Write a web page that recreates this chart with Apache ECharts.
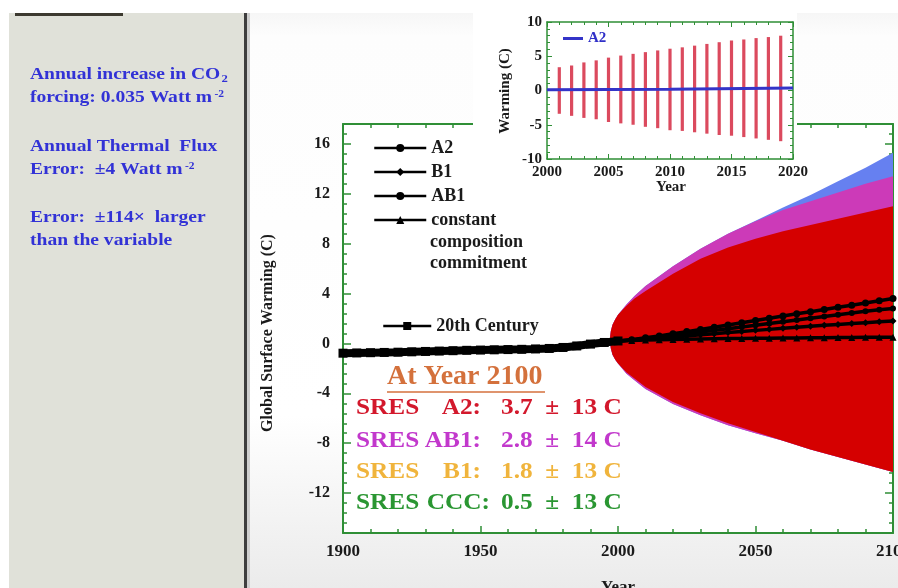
<!DOCTYPE html>
<html><head><meta charset="utf-8">
<script src="https://cdn.jsdelivr.net/npm/echarts@6/dist/echarts.min.js"></script>
<style>html,body{margin:0;padding:0;background:#fff;} #c{width:898px;height:588px;}</style>
</head><body><div id="c"></div>
<script>
// ---------- data ----------
const histYears = [1900,1905,1910,1915,1920,1925,1930,1935,1940,1945,1950,1955,1960,1965,1970,1975,1980,1985,1990,1995,2000];
const histTemp  = [-0.78,-0.76,-0.74,-0.72,-0.70,-0.67,-0.64,-0.61,-0.58,-0.55,-0.53,-0.51,-0.49,-0.47,-0.44,-0.40,-0.32,-0.20,-0.05,0.08,0.20];

const projYears = [2000,2005,2010,2015,2020,2025,2030,2035,2040,2045,2050,2055,2060,2065,2070,2075,2080,2085,2090,2095,2100];
const projA2  = [0.2,0.3,0.45,0.6,0.78,0.95,1.12,1.3,1.48,1.66,1.84,2.02,2.2,2.38,2.55,2.72,2.9,3.07,3.24,3.42,3.6];
const projAB1 = [0.2,0.28,0.4,0.52,0.65,0.78,0.92,1.05,1.18,1.32,1.46,1.6,1.74,1.88,2.02,2.16,2.3,2.44,2.58,2.7,2.8];
const projB1  = [0.2,0.27,0.35,0.43,0.52,0.6,0.69,0.78,0.87,0.96,1.05,1.13,1.22,1.3,1.38,1.46,1.53,1.6,1.67,1.74,1.8];
const projCCC = [0.2,0.24,0.27,0.3,0.32,0.34,0.36,0.38,0.39,0.4,0.41,0.42,0.43,0.44,0.45,0.46,0.47,0.48,0.49,0.5,0.5];

const bandYears    = [1997,1997.4,1998,1999,2000,2003,2006,2010,2020,2030,2040,2050,2060,2070,2080,2090,2100];
const redUpper     = [0.3,1.0,1.5,1.95,2.3,3.0,3.6,4.2,5.6,6.8,7.7,8.4,9.0,9.5,10.0,10.5,11.0];
const redLower     = [0.3,-0.4,-0.9,-1.3,-1.6,-2.3,-2.8,-3.5,-4.7,-5.6,-6.4,-7.1,-7.8,-8.5,-9.1,-9.7,-10.3];
const magentaUpper = [0.3,1.0,1.5,1.95,2.3,3.1,3.8,4.6,6.2,7.6,8.8,9.8,10.7,11.4,12.1,12.8,13.4];
const magentaLower = [0.3,-0.4,-0.9,-1.3,-1.6,-2.4,-2.95,-3.65,-4.85,-5.75,-6.55,-7.2,-7.8,-8.5,-9.1,-9.7,-10.3];
const blueUpper    = [0.3,1.0,1.5,1.95,2.3,3.1,3.8,4.6,6.2,7.6,8.8,9.85,10.9,11.9,13.0,14.1,15.3];
const blueLower    = [0.3,-0.4,-0.9,-1.3,-1.6,-2.4,-2.95,-3.65,-4.85,-5.75,-6.55,-7.2,-7.8,-8.5,-9.1,-9.7,-10.3];

const insetYears = [2001,2002,2003,2004,2005,2006,2007,2008,2009,2010,2011,2012,2013,2014,2015,2016,2017,2018,2019];
const insetHigh  = [3.4,3.65,4.1,4.4,4.8,5.1,5.35,5.6,5.85,6.1,6.3,6.55,6.8,7.05,7.3,7.45,7.65,7.8,8.0];
const insetLow   = [-3.4,-3.7,-4.0,-4.2,-4.6,-4.8,-5.0,-5.3,-5.5,-5.8,-5.9,-6.1,-6.3,-6.5,-6.6,-6.8,-7.0,-7.2,-7.4];
const insetLineYears = [2000,2010,2020];
const insetLine      = [0.1,0.2,0.35];

const yMajorMain = [-12,-8,-4,0,4,8,12,16];
const sresLabels = ['A2:','AB1:','B1:','CCC:'];
const sresValues = ['3.7  \u00b1  13 C','2.8  \u00b1  14 C','1.8  \u00b1  13 C','0.5  \u00b1  13 C'];

// ---------- styles ----------
const SERIF = "'Liberation Serif','DejaVu Serif',serif";
const GREEN = '#2f8f36';
const BLUE_TXT = '#3232d6';
const pairs = (xs, ys) => xs.map((x, i) => [x, ys[i]]);
const plain = v => String(v);

function band(name, lower, upper, color) {
  return {type:'custom', name:name, xAxisIndex:0, yAxisIndex:0, z:2, silent:true, clip:true,
    data:bandYears.map((y, i) => [y, lower[i], upper[i]]),
    encode:{x:0, y:[1,2]},
    renderItem:function(params, api){
      if (params.dataIndex !== 0) return null;
      const pts = [];
      for (let i = 0; i < bandYears.length; i++) pts.push(api.coord([bandYears[i], upper[i]]));
      for (let i = bandYears.length - 1; i >= 0; i--) pts.push(api.coord([bandYears[i], lower[i]]));
      return {type:'polygon', shape:{points:pts}, style:{fill:color}};
    }};
}
function proj(name, vals, sym, size) {
  return {type:'line', name:name, data:pairs(projYears, vals), symbol:sym, symbolSize:size,
    showAllSymbol:true, itemStyle:{color:'#000'}, lineStyle:{color:'#000', width:3.5}, z:3, xAxisIndex:0, yAxisIndex:0};
}

const lblStyle = {fontFamily:SERIF, fontWeight:'bold', fontSize:16, color:'#1a1a1a'};
const xLblStyle = {fontFamily:SERIF, fontWeight:'bold', fontSize:17, color:'#1a1a1a'};
const tickStyle = {color:GREEN, width:1.5};
const insetLbl = {fontFamily:SERIF, fontWeight:'bold', fontSize:15, color:'#1a1a1a'};

function leftText(y, text, rich) {
  const st = {text:text, verticalAlign:'middle', fontFamily:SERIF, fontWeight:'bold', fontSize:17, fill:BLUE_TXT};
  if (rich) st.rich = rich;
  return {type:'text', z:10, x:30, y:y, scaleX:1.15, style:st};
}
const richSub = {a:{fontFamily:SERIF, fontWeight:'bold', fontSize:17, fill:BLUE_TXT}, s:{fontFamily:SERIF, fontWeight:'bold', fontSize:11, fill:BLUE_TXT, padding:[8,0,0,1]}};
const richSup = {a:{fontFamily:SERIF, fontWeight:'bold', fontSize:17, fill:BLUE_TXT}, s:{fontFamily:SERIF, fontWeight:'bold', fontSize:10, fill:BLUE_TXT, padding:[0,0,8,2]}};

const option = {
  backgroundColor:'#ffffff',
  animation:false,
  grid:[
    {left:343, top:124, width:550, height:409, show:true, backgroundColor:'#ffffff', borderWidth:0, z:0,
     containLabel:false, outerBoundsMode:'none'},
    {left:547, top:22, width:246, height:137, show:true, backgroundColor:'#ffffff', borderWidth:0, z:4,
     containLabel:false, outerBoundsMode:'none'}
  ],
  xAxis:[
    {type:'value', gridIndex:0, position:'bottom', min:1900, max:2100, interval:50, z:1,
     axisLine:{show:true, onZero:false, lineStyle:{color:GREEN, width:2}},
     axisTick:{show:true, inside:true, length:7, lineStyle:tickStyle},
     minorTick:{show:true, splitNumber:5, length:4, lineStyle:tickStyle},
     splitLine:{show:false}, axisLabel:Object.assign({margin:10, formatter:plain}, xLblStyle)},
    {type:'value', gridIndex:0, position:'top', min:1900, max:2100, interval:50, z:1,
     axisLine:{show:true, onZero:false, lineStyle:{color:GREEN, width:2}},
     axisTick:{show:true, inside:true, length:7, lineStyle:tickStyle},
     minorTick:{show:true, splitNumber:5, length:4, lineStyle:tickStyle},
     splitLine:{show:false}, axisLabel:{show:false}},
    {type:'value', gridIndex:1, position:'bottom', min:2000, max:2020, interval:5, z:5,
     axisLine:{show:true, onZero:false, lineStyle:{color:GREEN, width:1.5}},
     axisTick:{show:true, inside:true, length:5, lineStyle:{color:GREEN, width:1}},
     minorTick:{show:true, splitNumber:5, length:3, lineStyle:{color:GREEN, width:1}},
     splitLine:{show:false}, axisLabel:Object.assign({margin:6, formatter:plain}, insetLbl)},
    {type:'value', gridIndex:1, position:'top', min:2000, max:2020, interval:5, z:5,
     axisLine:{show:true, onZero:false, lineStyle:{color:GREEN, width:1.5}},
     axisTick:{show:true, inside:true, length:5, lineStyle:{color:GREEN, width:1}},
     minorTick:{show:true, splitNumber:5, length:3, lineStyle:{color:GREEN, width:1}},
     splitLine:{show:false}, axisLabel:{show:false}}
  ],
  yAxis:[
    {type:'value', gridIndex:0, position:'left', min:-15.2, max:17.6, interval:0.8, z:1,
     axisLine:{show:true, onZero:false, lineStyle:{color:GREEN, width:2}},
     axisTick:{show:true, inside:true, length:4, lineStyle:tickStyle},
     splitLine:{show:false},
     axisLabel:Object.assign({margin:13, formatter:function(v){
        const r = Math.round(v/4)*4; return Math.abs(v - r) < 1e-6 ? String(r) : '';}}, lblStyle)},
    {type:'value', gridIndex:0, position:'left', min:-15.2, max:17.6, z:1,
     axisLine:{show:false}, splitLine:{show:false}, axisLabel:{show:false},
     axisTick:{show:true, inside:true, length:8, customValues:yMajorMain, lineStyle:tickStyle}},
    {type:'value', gridIndex:0, position:'right', min:-15.2, max:17.6, interval:0.8, z:1,
     axisLine:{show:true, onZero:false, lineStyle:{color:GREEN, width:2}},
     axisTick:{show:true, inside:true, length:4, lineStyle:tickStyle},
     splitLine:{show:false}, axisLabel:{show:false}},
    {type:'value', gridIndex:0, position:'right', min:-15.2, max:17.6, z:1,
     axisLine:{show:false}, splitLine:{show:false}, axisLabel:{show:false},
     axisTick:{show:true, inside:true, length:8, customValues:yMajorMain, lineStyle:tickStyle}},
    {type:'value', gridIndex:1, position:'left', min:-10, max:10, interval:5, z:5,
     axisLine:{show:true, onZero:false, lineStyle:{color:GREEN, width:1.5}},
     axisTick:{show:true, inside:true, length:5, lineStyle:{color:GREEN, width:1}},
     minorTick:{show:true, splitNumber:5, length:3, lineStyle:{color:GREEN, width:1}},
     splitLine:{show:false}, axisLabel:Object.assign({margin:5, formatter:plain}, insetLbl)},
    {type:'value', gridIndex:1, position:'right', min:-10, max:10, interval:5, z:5,
     axisLine:{show:true, onZero:false, lineStyle:{color:GREEN, width:1.5}},
     axisTick:{show:true, inside:true, length:5, lineStyle:{color:GREEN, width:1}},
     minorTick:{show:true, splitNumber:5, length:3, lineStyle:{color:GREEN, width:1}},
     splitLine:{show:false}, axisLabel:{show:false}}
  ],
  legend:[
    {data:['A2','B1','AB1','CCC'], orient:'vertical', left:373, top:138, padding:0, itemGap:4,
     itemWidth:52, itemHeight:10, selectedMode:false, z:10,
     lineStyle:{width:2.5}, formatter:function(n){return n === 'CCC' ? 'constant' : n;},
     textStyle:{fontFamily:SERIF, fontWeight:'bold', fontSize:18, color:'#1a1a1a', lineHeight:20}},
    {data:['20th Century'], orient:'vertical', left:382, top:316, padding:0,
     itemWidth:48, itemHeight:10, selectedMode:false, z:10, lineStyle:{width:2.5},
     textStyle:{fontFamily:SERIF, fontWeight:'bold', fontSize:18, color:'#1a1a1a', lineHeight:20}},
    {data:['A2_inset'], orient:'vertical', left:563, top:30, padding:0, icon:'rect',
     itemWidth:20, itemHeight:3, selectedMode:false, z:10,
     formatter:function(){return 'A2';},
     textStyle:{fontFamily:SERIF, fontWeight:'bold', fontSize:15, color:'#3030c8', lineHeight:17}}
  ],
  series:[
    band('blueBand', blueLower, blueUpper, '#6680f0'),
    band('magentaBand', magentaLower, magentaUpper, '#cc3ab8'),
    band('redBand', redLower, redUpper, '#d50000'),
    {type:'line', name:'20th Century', data:pairs(histYears, histTemp), symbol:'rect', symbolSize:9,
     showAllSymbol:true, itemStyle:{color:'#000'}, lineStyle:{color:'#000', width:8}, z:3, xAxisIndex:0, yAxisIndex:0},
    proj('CCC', projCCC, 'triangle', 7),
    proj('B1', projB1, 'diamond', 7),
    proj('AB1', projAB1, 'circle', 6),
    proj('A2', projA2, 'circle', 7),
    {type:'custom', name:'A2 errors', xAxisIndex:2, yAxisIndex:4, z:6,
     data:insetYears.map((y, i) => [y, insetLow[i], insetHigh[i]]),
     encode:{x:0, y:[1,2]},
     renderItem:function(params, api){
       const x = api.value(0);
       const top = api.coord([x, api.value(2)]);
       const bot = api.coord([x, api.value(1)]);
       return {type:'rect', shape:{x:top[0]-1.6, y:top[1], width:3.2, height:bot[1]-top[1]},
               style:{fill:'#db4a5e'}};
     }},
    {type:'line', name:'A2_inset', xAxisIndex:2, yAxisIndex:4, z:7, data:pairs(insetLineYears, insetLine),
     symbol:'none', itemStyle:{color:'#3434c8'}, lineStyle:{color:'#3434c8', width:3}}
  ],
  graphic:{elements:[
    // slide background pieces
    {type:'rect', z:-20, shape:{x:250, y:13, width:648, height:575},
     style:{fill:new echarts.graphic.LinearGradient(0,0,0,1,[{offset:0,color:'#f6f6f6'},{offset:0.04,color:'#fdfdfd'},{offset:0.7,color:'#ffffff'},{offset:1,color:'#ebebeb'}])}},
    {type:'rect', z:-20, shape:{x:9, y:13, width:236, height:575}, style:{fill:'#e0e1d9'}},
    {type:'rect', z:-19, shape:{x:244, y:13, width:3, height:575}, style:{fill:'#3e3e3e'}},
    {type:'rect', z:-19, shape:{x:247, y:13, width:3, height:575}, style:{fill:'#cfcfcf'}},
    {type:'rect', z:-19, shape:{x:15, y:13, width:108, height:3}, style:{fill:'#3d3a30'}},
    // white cover behind inset
    {type:'rect', z:3, shape:{x:473, y:0, width:324, height:198}, style:{fill:'#ffffff'}},
    // left panel text
    leftText(75, '{a|Annual increase in CO}{s|2}', richSub),
    leftText(98, '{a|forcing: 0.035 Watt m}{s|-2}', richSup),
    leftText(147, 'Annual Thermal  Flux'),
    leftText(170, '{a|Error:  \u00b14 Watt m}{s|-2}', richSup),
    leftText(218, 'Error:  \u00b1114\u00d7  larger'),
    leftText(241, 'than the variable'),
    // legend continuation
    {type:'text', z:10, x:430, y:242, style:{text:'composition', verticalAlign:'middle', fontFamily:SERIF, fontWeight:'bold', fontSize:18, fill:'#1a1a1a'}},
    {type:'text', z:10, x:430, y:263, style:{text:'commitment', verticalAlign:'middle', fontFamily:SERIF, fontWeight:'bold', fontSize:18, fill:'#1a1a1a'}},
    // axis names
    {type:'text', z:10, x:268, y:333, rotation:Math.PI/2, style:{text:'Global Surface Warming (C)', align:'center', verticalAlign:'middle', fontFamily:SERIF, fontWeight:'bold', fontSize:16, fill:'#1a1a1a'}},
    {type:'text', z:10, x:618, y:588, style:{text:'Year', align:'center', verticalAlign:'middle', fontFamily:SERIF, fontWeight:'bold', fontSize:17, fill:'#1a1a1a'}},
    {type:'text', z:10, x:505, y:91, rotation:Math.PI/2, style:{text:'Warming (C)', align:'center', verticalAlign:'middle', fontFamily:SERIF, fontWeight:'bold', fontSize:15, fill:'#1a1a1a'}},
    {type:'text', z:10, x:671, y:187, style:{text:'Year', align:'center', verticalAlign:'middle', fontFamily:SERIF, fontWeight:'bold', fontSize:15, fill:'#1a1a1a'}},
    // annotation
    {type:'text', z:10, x:387, y:377, style:{text:'At Year 2100', verticalAlign:'middle', fontFamily:SERIF, fontWeight:'bold', fontSize:28, fill:'#d4713c'}},
    {type:'line', z:10, shape:{x1:387, y1:392, x2:545, y2:392}, style:{stroke:'#d4713c', lineWidth:1.5}}
  ].concat(
    [0,1,2,3].flatMap(i => {
      const cols = ['#d3182c','#c238cc','#f0b43c','#2a9632'];
      const ys = [408,441,472,503];
      const rx = [481,481,481,490];
      const base = {fontFamily:SERIF, fontWeight:'bold', fontSize:23, fill:cols[i], verticalAlign:'middle'};
      return [
        {type:'text', z:10, x:356, y:ys[i], scaleX:1.1, style:Object.assign({text:'SRES'}, base)},
        {type:'text', z:10, x:rx[i], y:ys[i], scaleX:1.1, style:Object.assign({text:sresLabels[i], align:'right'}, base)},
        {type:'text', z:10, x:501, y:ys[i], scaleX:1.1, style:Object.assign({text:sresValues[i]}, base)}
      ];
    })
  )}
};

const chart = echarts.init(document.getElementById('c'), null, {renderer:'canvas'});
chart.setOption(option);
</script>
</body></html>
